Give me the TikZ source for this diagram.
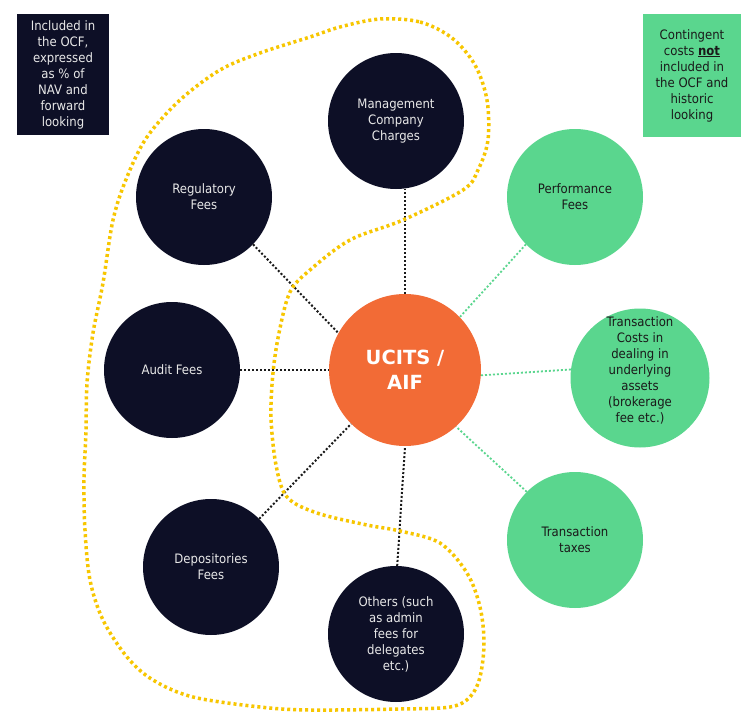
\documentclass[tikz,border=0pt]{standalone}
\usepackage{fontspec}
\setmainfont{DejaVu Sans Condensed}
\newfontfamily\hubfont{DejaVu Sans}
\definecolor{navy}{HTML}{0D0F26}
\definecolor{orng}{HTML}{F26B36}
\definecolor{mint}{HTML}{5AD68E}
\definecolor{gold}{HTML}{F7C600}
\definecolor{lgray}{HTML}{E8E8E8}
\definecolor{dtext}{HTML}{1A1A1A}
\tikzset{
  txt/.style={font=\fontsize{13}{16}\selectfont, align=center},
  darkc/.style={circle, fill=navy, minimum size=136pt, inner sep=0pt, text=lgray, txt},
  greenc/.style={circle, fill=mint, minimum size=136pt, inner sep=0pt, text=dtext, txt},
  hubc/.style={circle, fill=orng, minimum size=152pt, inner sep=0pt, text=white, font=\hubfont\bfseries\fontsize{19.5}{25}\selectfont, align=center},
  darkbox/.style={fill=navy, text=lgray, minimum width=92pt, minimum height=121pt, inner sep=0pt, txt},
  greenbox/.style={fill=mint, text=dtext, minimum width=98pt, minimum height=123pt, inner sep=0pt, txt},
  darkline/.style={draw=dtext, line width=2pt, dash pattern=on 2pt off 2pt},
  greenline/.style={draw=mint, line width=1.8pt, dash pattern=on 2pt off 2pt},
  outline/.style={draw=gold, line width=3.5pt, dash pattern=on 3pt off 3pt},
}
\begin{document}
\begin{tikzpicture}[x=1pt, y=-1pt]
\fill[white] (0,0) rectangle (756,728);
\useasboundingbox (0,0) rectangle (756,728);

% legend boxes
\node[darkbox] (lbox) at (63,74.5) {Included in\\the OCF,\\expressed\\as \% of\\NAV and\\forward\\looking};
\node[greenbox] (rbox) at (692,75.5) {Contingent\\costs \textbf{\underline{not}}\\included in\\the OCF and\\historic\\looking};

% hub
\node[hubc] (hub) at (405,370) {UCITS /\\AIF};

% dark circles
\node[darkc] (mg) at (396,121) {Management\\Company\\Charges};
\node[darkc] (reg) at (204,197) {Regulatory\\Fees};
\node[darkc] (aud) at (172,370) {Audit Fees};
\node[darkc] (dep) at (211,567) {Depositories\\Fees};
\node[darkc] (oth) at (396,634) {Others (such\\as admin\\fees for\\delegates\\etc.)};

% green circles
\node[greenc] (perf) at (575,197) {Performance\\Fees};
\node[greenc, minimum size=139pt] (tc) at (640,378) {};
\node[txt, text=dtext] (tct) at (640,370) {Transaction\\Costs in\\dealing in\\underlying\\assets\\(brokerage\\fee etc.)};
\node[greenc] (tax) at (575,540) {Transaction\\taxes};

% connectors
\draw[darkline] (hub.north) -- (hub.north |- mg.south);
\draw[darkline] (reg.-44) -- (hub.151);
\draw[darkline] (aud.east) -- (hub.west);
\draw[darkline] (dep.45) -- (hub.-135);
\draw[darkline] (oth.89) -- (hub.-90);
\draw[greenline] (perf.-136) -- (hub.44);
\draw[greenline] (tc.173) -- (hub.-4);
\draw[greenline] (tax.135) -- (hub.-48);

% yellow outline
\draw[outline] plot[smooth cycle, tension=0.55] coordinates {
(380,19) (420,22) (452,38) (475,65) (487,100) (488,140) (478,170) (463,190)
(403,220) (350,240) (310,270) (290,292) (279,333) (273,373) (271,417)
(276,465) (287,497) (317,513) (367,525) (400,531) (440,543) (467,573)
(480,607) (484,643) (480,677) (470,697) (450,707) (400,709) (310,710)
(260,707) (193,697) (153,680) (127,657) (103,620) (90,580) (85,530)
(84,480) (86,430) (87,383) (93,333) (103,283) (113,220) (127,177)
(147,137) (180,100) (220,70) (260,53) (310,37) (340,27)};
\end{tikzpicture}
\end{document}
